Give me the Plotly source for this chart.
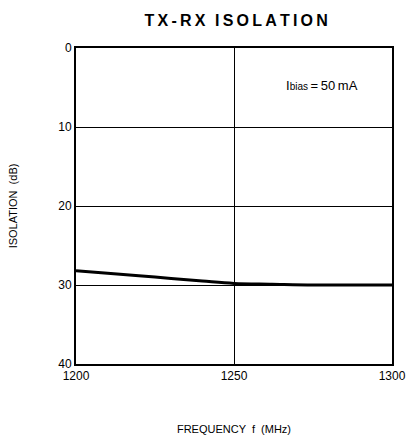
import plotly.graph_objects as go

freq_mhz = [1200, 1210, 1225, 1240, 1250, 1262, 1275, 1290, 1300]
isolation_db = [28.2, 28.5, 29.0, 29.5, 29.8, 29.9, 30.0, 30.0, 30.0]

x_ticks = [1200, 1250, 1300]
y_ticks = [0, 10, 20, 30, 40]

FONT = "Liberation Sans, Arial, Helvetica, sans-serif"
TS = "\u2009"
title_text = TS.join("TX-RX") + TS * 3 + TS.join("ISOLATION")

fig = go.Figure()
fig.add_trace(go.Scatter(
    x=freq_mhz, y=isolation_db, mode="lines",
    line=dict(color="black", width=3, shape="spline"),
    showlegend=False, hoverinfo="skip",
))

fig.update_layout(
    width=418, height=446,
    margin=dict(l=76, r=17, t=48, b=76),
    paper_bgcolor="white", plot_bgcolor="white",
    font=dict(family=FONT, color="black", size=12),
    title=dict(text="<b>" + title_text + "</b>", x=0.565, xanchor="center",
               y=0.955, yanchor="middle", font=dict(size=16, family=FONT)),
)
fig.update_xaxes(
    range=[1200, 1300], tickvals=x_ticks, ticktext=[str(v) for v in x_ticks],
    showgrid=True, gridcolor="black", gridwidth=1,
    showline=True, linecolor="black", linewidth=2, mirror=True,
    ticks="", zeroline=False,
    title=dict(text="FREQUENCY  f  (MHz)", standoff=43, font=dict(size=11)),
    tickfont=dict(size=12),
)
fig.update_yaxes(
    range=[40, 0], tickvals=y_ticks, ticktext=[str(v) for v in y_ticks],
    showgrid=True, gridcolor="black", gridwidth=1,
    showline=True, linecolor="black", linewidth=2, mirror=True,
    ticks="", zeroline=False,
    title=dict(text="ISOLATION  (dB)", standoff=38, font=dict(size=11)),
    tickfont=dict(size=12),
)
fig.add_annotation(
    x=1290, y=4.8, xref="x", yref="y", xanchor="right", yanchor="middle",
    text="I<span style='font-size:10px'>bias</span>" + TS + "=" + TS + "50" + TS + "mA",
    showarrow=False, font=dict(size=13, family=FONT),
)

fig.write_html(
    "out.html",
    config={"displayModeBar": False},
    post_script="document.body.style.margin='0';document.body.style.overflow='hidden';"
                "document.documentElement.style.overflow='hidden';",
)
